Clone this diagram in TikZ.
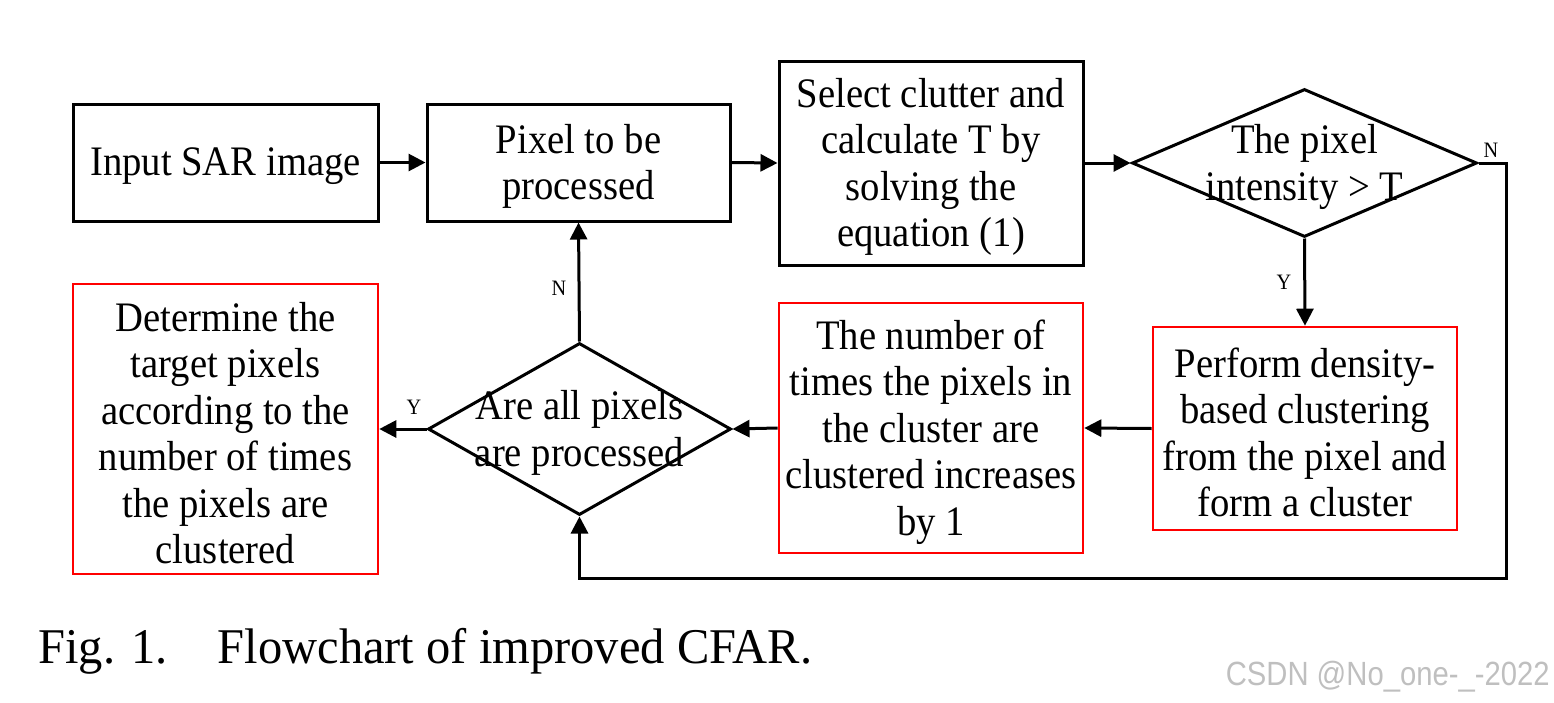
\documentclass[tikz,border=0pt]{standalone}
\usepackage{fontspec}
\setmainfont[FakeStretch=0.92]{Liberation Serif}
\newfontfamily\capfont[FakeStretch=0.97]{Liberation Serif}
\newfontfamily\wmfont[FakeStretch=0.87]{Liberation Sans}
\usetikzlibrary{arrows.meta,shapes.geometric}
\begin{document}
\begin{tikzpicture}[x=0.5pt,y=-0.5pt,
  box/.style={draw=black,line width=1.5pt,rectangle,inner sep=0pt},
  redbox/.style={box,draw=red,line width=1.3pt},
  dia/.style={draw=black,line width=1.5pt,diamond,inner sep=0pt},
  txt/.style={align=center,inner sep=0pt,font=\fontsize{21}{23.25}\selectfont},
  arr/.style={line width=1.5pt,-{Triangle[length=8.5pt,width=8.5pt]}},
  lbl/.style={font=\fontsize{11}{12}\selectfont,inner sep=0pt}]
\useasboundingbox (0,0) rectangle (1554,702);
\node[box,minimum width=152.5pt,minimum height=58.5pt] (in) at (225.5,162.5) {};
\node[txt] (int) at ([yshift=-2pt]in.center) {Input SAR image};
\node[box,minimum width=151.5pt,minimum height=58.5pt] (pix) at (578.5,162.5) {};
\node[txt] (pixt) at ([yshift=-2pt]pix.center) {Pixel to be\\processed};
\node[box,minimum width=152pt,minimum height=102pt] (sel) at (931,163) {};
\node[txt] (selt) at ([yshift=-2pt]sel.center) {Select clutter and\\calculate T by\\solving the\\equation (1)};
\node[dia,minimum width=172.5pt,minimum height=74pt] (d1) at (1304.5,163) {};
\node[txt] (d1t) at ([yshift=-2pt]d1.center) {The pixel\\intensity > T};
\node[redbox,minimum width=152pt,minimum height=101.5pt] (perf) at (1305,428.5) {};
\node[txt] (perft) at ([yshift=-2pt]perf.center) {Perform density-\\based clustering\\from the pixel and\\form a cluster};
\node[redbox,minimum width=152pt,minimum height=125pt] (num) at (931,428) {};
\node[txt] (numt) at ([yshift=-2pt]num.center) {The number of\\times the pixels in\\the cluster are\\clustered increases\\by 1};
\node[dia,minimum width=151.5pt,minimum height=86pt] (d2) at (579.5,429) {};
\node[txt] (d2t) at ([yshift=-2pt]d2.center) {Are all pixels\\are processed};
\node[redbox,minimum width=152.5pt,minimum height=145pt] (det) at (225.5,429) {};
\node[txt] (dett) at ([yshift=-2pt]det.center) {Determine the\\target pixels\\according to the\\number of times\\the pixels are\\clustered};
\coordinate (c1) at (1506,163);
\coordinate (c2) at (1506,578);
\draw[arr] (in.east) -- (pix.west);
\draw[arr] (pix.east) -- (sel.west);
\draw[arr] (sel.east) -- (d1.west);
\draw[arr] (d1.south) -- (perf.north);
\draw[arr] (perf.west) -- (num.east);
\draw[arr] (num.west) -- (d2.east);
\draw[arr] (d2.west) -- (det.east);
\draw[arr] (d2.north) -- (pix.south);
\draw[arr,line join=miter] (d1.east) -- (c1) -- (c2) -| (d2.south);
\node[lbl] (yl1) at (1284,282) {Y};
\node[lbl] (nl1) at (1491,150) {N};
\node[lbl] (nl2) at (559,288) {N};
\node[lbl] (yl2) at (414,407) {Y};
\node[anchor=base west,inner sep=0pt,font=\capfont\fontsize{25}{28}\selectfont] (cap) at (38,663) {Fig. 1.\hspace{25pt}Flowchart of improved CFAR.};
\node[anchor=base east,inner sep=0pt,text=black!25,font=\wmfont\fontsize{16.8}{18}\selectfont] (wm) at (1550,685) {CSDN @No\_one-\_-2022};
\end{tikzpicture}
\end{document}
